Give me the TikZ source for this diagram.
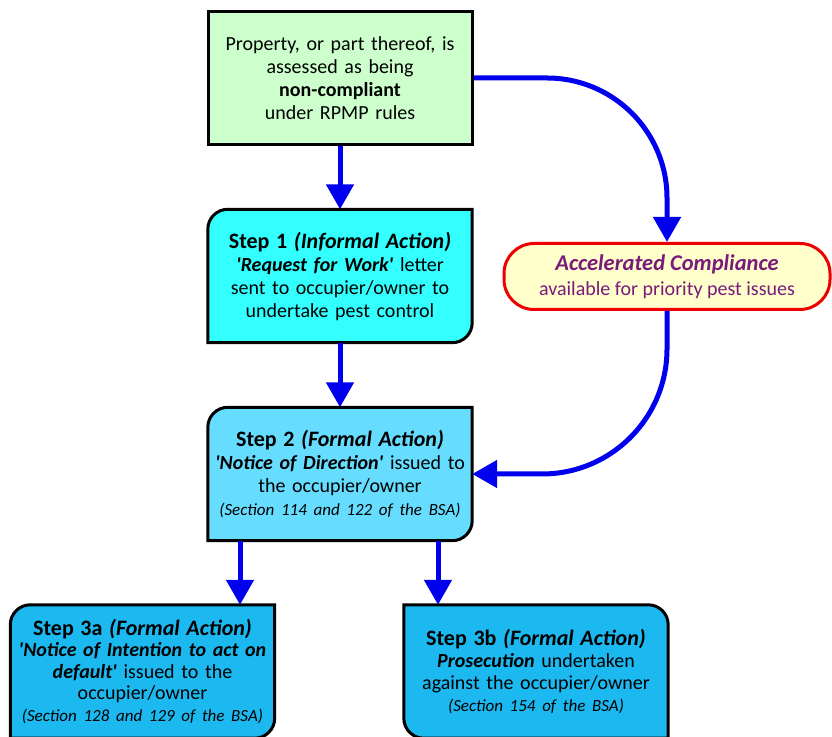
\documentclass[tikz,border=0pt]{standalone}
\usepackage{fontspec}
\setmainfont{Carlito}
\usetikzlibrary{arrows.meta,backgrounds}
\definecolor{greenfill}{HTML}{CCFFCC}
\definecolor{stepone}{HTML}{33FFFF}
\definecolor{steptwo}{HTML}{66DDFF}
\definecolor{stepthree}{HTML}{1CB8F0}
\definecolor{accfill}{HTML}{FFFFCC}
\definecolor{accline}{HTML}{EE0000}
\definecolor{acctext}{HTML}{7A1A7A}
\definecolor{flowblue}{HTML}{0000EE}
\newcommand\bodysize{\fontsize{20pt}{23pt}\selectfont}
\newcommand\headsize{\fontsize{22pt}{24pt}\selectfont}
\newcommand\notesize{\fontsize{17pt}{21pt}\selectfont}
\newcommand\quoted[1]{\textbf{\textit{\textquotesingle#1\textquotesingle}}}
\tikzset{
  box/.style={minimum width=264pt,minimum height=133pt,text width=254pt,align=center,inner sep=0pt,font=\bodysize},
  stepframe/.style={draw=black,line width=3pt},
  flow/.style={draw=flowblue,line width=5pt,-{Triangle[length=25pt,width=27pt]}}
}
\begin{document}
\begin{tikzpicture}[x=1pt,y=1pt]
\useasboundingbox (0,0) rectangle (832,736);
\node[box,stepframe,fill=greenfill] (prop) at (340,658) {Property, or part thereof, is\\assessed as being\\\textbf{non-compliant}\\under RPMP rules};
\node[box] (step1) at (340,460) {{\headsize\textbf{Step 1 \textit{(Informal Action)}}}\\\quoted{Request for Work} letter\\sent to occupier/owner to\\undertake pest control};
\node[box] (step2) at (340,262) {{\headsize\textbf{Step 2 \textit{(Formal Action)}}}\\\quoted{Notice of Direction} issued to\\the occupier/owner\\\notesize\textit{(Section 114 and 122 of the BSA)}};
\node[box,font=\fontsize{20pt}{21.5pt}\selectfont] (step3a) at (142.5,64.5) {{\headsize\textbf{Step 3a \textit{(Formal Action)}}}\\\quoted{Notice of Intention to act on\\default} issued to the\\occupier/owner\\\notesize\textit{(Section 128 and 129 of the BSA)}};
\node[box,font=\fontsize{20pt}{22pt}\selectfont] (step3b) at (536,64.5) {{\headsize\textbf{Step 3b \textit{(Formal Action)}}}\\\textbf{\textit{Prosecution}} undertaken\\against the occupier/owner\\\notesize\textit{(Section 154 of the BSA)}};
\node[draw=accline,line width=3pt,fill=accfill,rounded corners=30pt,minimum width=326pt,minimum height=66pt,
  align=center,inner sep=0pt,text=acctext,font=\fontsize{20pt}{25pt}\selectfont] (accel) at (667,459.5)
  {{\fontsize{22.5pt}{24pt}\selectfont\textbf{\textit{Accelerated Compliance}}}\\available for priority pest issues};

\begin{scope}[on background layer]
\foreach \n/\c in {step1/stepone,step2/steptwo,step3a/stepthree}
  \draw[stepframe,fill=\c] (\n.north east) -- ([xshift=20pt]\n.north west) arc[start angle=90,end angle=180,radius=20pt]
    -- (\n.south west) -- ([xshift=-20pt]\n.south east) arc[start angle=270,end angle=360,radius=20pt] -- cycle;
\draw[stepframe,fill=stepthree] (step3b.north west) -- ([xshift=-20pt]step3b.north east) arc[start angle=90,end angle=0,radius=20pt]
  -- (step3b.south east) -- ([xshift=20pt]step3b.south west) arc[start angle=270,end angle=180,radius=20pt] -- cycle;
\end{scope}

\draw[flow] (prop.south) -- (step1.north);
\draw[flow] (step1.south) -- (step2.north);
\draw[flow] ([xshift=-100pt]step2.south) -- ([xshift=-100pt]step2.south |- step3a.north);
\draw[flow] ([xshift=98pt]step2.south) -- ([xshift=98pt]step2.south |- step3b.north);
\draw[flow,rounded corners=120pt] (prop.east) -| (accel.north);
\draw[flow,rounded corners=125pt] (accel.south) |- (step2.east);
\end{tikzpicture}
\end{document}
